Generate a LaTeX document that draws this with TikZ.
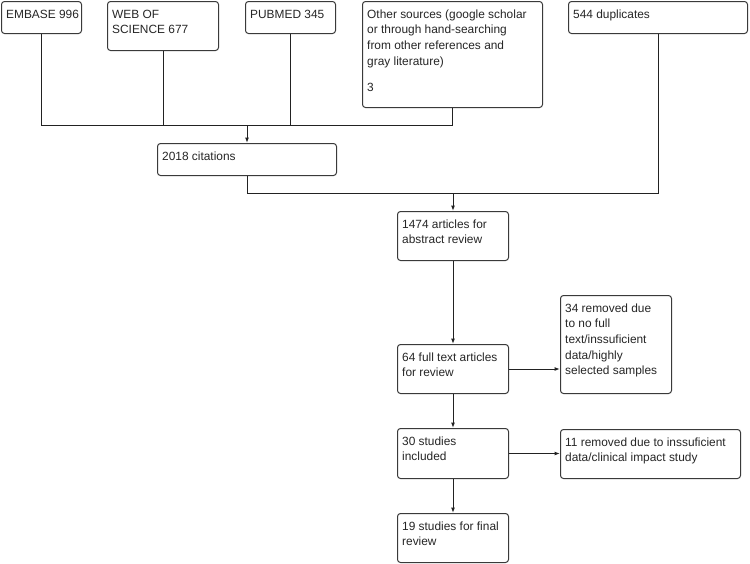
\documentclass[tikz,border=0pt]{standalone}
\usepackage{fontspec}
\setmainfont{Liberation Sans}
\usetikzlibrary{arrows.meta,calc}
\definecolor{boxc}{HTML}{3A3A3A}
\definecolor{linec}{HTML}{222222}
\newcommand\mybox[6]{%
  \node[box, minimum width=#4pt, minimum height=#5pt] (#1) at (#2,#3) {};
  \node[txt] (#1-t) at ($(#1.north west)+(5,17)$) {\parbox[t]{300pt}{\raggedright #6}};
}
\begin{document}
\begin{tikzpicture}[x=1pt,y=-1pt,
  box/.style={draw=boxc, line width=1pt, rounded corners=3pt, anchor=north west, inner sep=0pt, fill=white},
  txt/.style={anchor=base west, inner sep=0pt, text=black!85, font=\fontsize{11.9}{15.7}\selectfont},
  ln/.style={draw=linec, line width=1pt},
  arr/.style={ln, -{Latex[length=5.5pt,width=4pt]}}]
\useasboundingbox (0,0) rectangle (750,563);
\fill[white] (0,0) rectangle (750,563);

\mybox{embase}{1}{1}{80}{32}{EMBASE 996}
\mybox{web}{107}{1}{111}{49}{WEB OF\\SCIENCE 677}
\mybox{pubmed}{245}{1}{90}{32}{PUBMED 345}
\mybox{other}{362}{1}{180}{106}{Other sources (google scholar\\or through hand-searching\\from other references and\\gray literature)\\[11pt]3}
\mybox{dup}{568}{1}{179}{32}{544 duplicates}
\mybox{cit}{157}{143}{179}{32}{2018 citations}
\mybox{abs}{397}{211}{111}{49}{1474 articles for\\abstract review}
\mybox{full}{397}{344}{111}{49}{64 full text articles\\for review}
\mybox{rem1}{560}{295}{111}{98}{34 removed due\\to no full\\text/inssuficient\\data/highly\\selected samples}
\mybox{inc}{397}{428}{111}{50}{30 studies\\included}
\mybox{rem2}{560}{429}{180}{49}{11 removed due to inssuficient\\data/clinical impact study}
\mybox{final}{397}{513}{111}{49}{19 studies for final\\review}

\coordinate (h1) at (0,125);
\coordinate (h2) at (0,193);
\coordinate (j1) at (cit.north |- h1);
\coordinate (j2) at (abs.north |- h2);

\draw[ln] (embase.south) |- (j1);
\draw[ln] (web.south) |- (j1);
\draw[ln] (pubmed.south) |- (j1);
\draw[ln] (other.south) |- (j1);
\draw[arr] (j1) -- (cit.north);

\draw[ln] (cit.south) |- (j2);
\draw[ln] (dup.south) |- (j2);
\draw[arr] (j2) -- (abs.north);

\draw[arr] (abs.south) -- (full.north);
\draw[arr] (full.east) -- (rem1.west |- full.east);
\draw[arr] (full.south) -- (inc.north);
\draw[arr] (inc.east) -- (rem2.west |- inc.east);
\draw[arr] (inc.south) -- (final.north);
\end{tikzpicture}
\end{document}
